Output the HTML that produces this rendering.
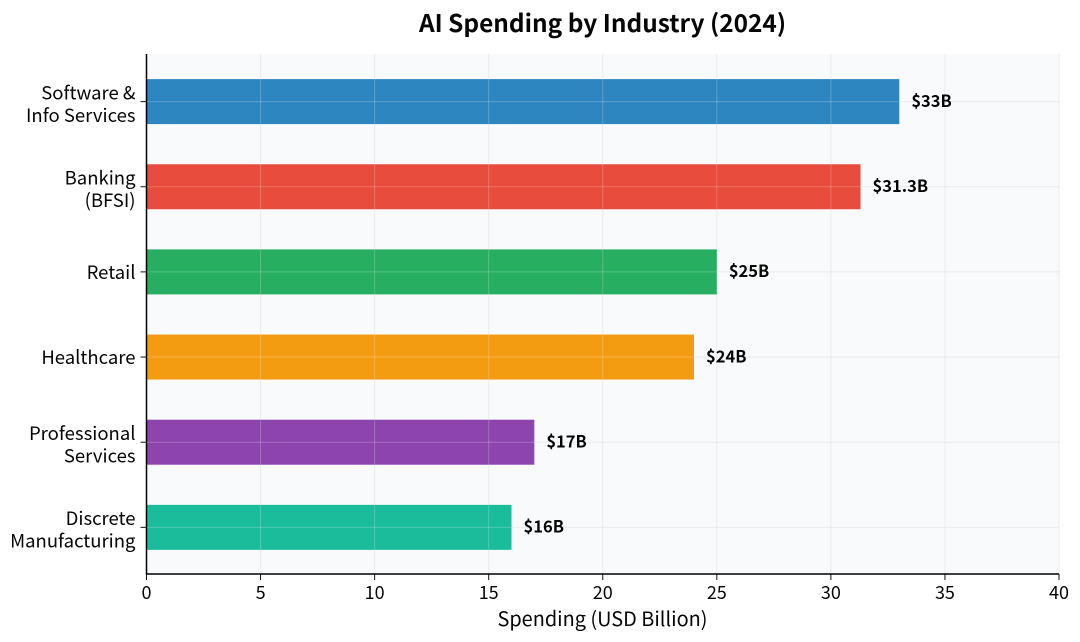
<!DOCTYPE html>
<html>
<head>
<meta charset="utf-8">
<title>AI Spending by Industry (2024)</title>
<style>
html,body{margin:0;padding:0;background:#fff;}
svg{display:block;font-family:"Liberation Sans","Noto Sans CJK SC",sans-serif;}
svg text{font-family:"Noto Sans CJK SC","Liberation Sans",sans-serif;fill:#050505;}
</style>
</head>
<body>
<svg id="chart" width="1080" height="642" viewBox="0 0 1080 642" xmlns="http://www.w3.org/2000/svg">
  <text x="602.5" y="32" text-anchor="middle" font-size="24.4" font-weight="700">AI Spending by Industry (2024)</text>
  <text x="602.5" y="626" text-anchor="middle" font-size="19.9">Spending (USD Billion)</text>
</svg>
<script>
const categories = [["Software &", "Info Services"], ["Banking", "(BFSI)"], ["Retail"], ["Healthcare"], ["Professional", "Services"], ["Discrete", "Manufacturing"]];
const spending = [33, 31.3, 25, 24, 17, 16];
const valueLabels = ["$33B", "$31.3B", "$25B", "$24B", "$17B", "$16B"];
const barColors = ["#2e86c1", "#e74c3c", "#27ae60", "#f39c12", "#8e44ad", "#1abc9c"];
const xTicks = [0, 5, 10, 15, 20, 25, 30, 35, 40];

const svg = document.getElementById('chart');
const NS = 'http://www.w3.org/2000/svg';
const plotLeft = 146.5, plotRight = 1059, plotTop = 54, plotBottom = 574;
const xMax = xTicks[xTicks.length - 1];
const bandStep = 85.15, firstBand = 101.6, barHeight = 45;

function xScale(v) { return plotLeft + (v / xMax) * (plotRight - plotLeft); }
function yScale(i) { return firstBand + i * bandStep; }
function mk(tag, attrs, parent) {
  const el = document.createElementNS(NS, tag);
  for (const k in attrs) el.setAttribute(k, attrs[k]);
  (parent || svg).appendChild(el);
  return el;
}

const bg = mk('rect', {x: plotLeft, y: plotTop, width: plotRight - plotLeft, height: plotBottom - plotTop, fill: '#f9fafb'});



xTicks.forEach(t => {
  const g = mk('line', {x1: xScale(t), x2: xScale(t), y1: plotTop, y2: plotBottom, stroke: '#d5dade', 'stroke-opacity': 0.45, 'stroke-width': 1});
  
  
});
categories.forEach((c, i) => {
  const g = mk('line', {x1: plotLeft, x2: plotRight, y1: yScale(i), y2: yScale(i), stroke: '#d5dade', 'stroke-opacity': 0.45, 'stroke-width': 1});
  
  
});

categories.forEach((c, i) => {
  const bar = mk('rect', {x: xScale(0), y: yScale(i) - barHeight / 2, width: xScale(spending[i]) - xScale(0), height: barHeight, fill: barColors[i]});
  
  
});

xTicks.forEach(t => {
  spending.forEach((v, i) => {
    if (t > 0 && t < v) {
      const g = mk('line', {x1: xScale(t), x2: xScale(t), y1: yScale(i) - barHeight / 2, y2: yScale(i) + barHeight / 2, stroke: '#fff', 'stroke-opacity': 0.22, 'stroke-width': 1});
      
      
    }
  });
});
spending.forEach((v, i) => {
  const g = mk('line', {x1: xScale(0), x2: xScale(v), y1: yScale(i), y2: yScale(i), stroke: '#fff', 'stroke-opacity': 0.22, 'stroke-width': 1});
  
  
});

categories.forEach((c, i) => {
  const y = yScale(i);
  const tick = mk('line', {x1: plotLeft - 6, x2: plotLeft, y1: y, y2: y, stroke: '#111', 'stroke-width': 1});
  
  

  const label = mk('text', {x: 135.5, 'text-anchor': 'end', 'font-size': 18.5});
  
  
  const startY = c.length === 2 ? y - 2.3 : y + 7;
  c.forEach((line, j) => {
    const ts = mk('tspan', {x: 135.5, y: startY + j * 22.5}, label);
    ts.textContent = line;
  });

  const val = mk('text', {x: xScale(spending[i]) + 12, y: y + 5.2, 'font-size': 16.5, 'font-weight': 700});
  
  
  val.textContent = valueLabels[i];
});

xTicks.forEach(t => {
  const tick = mk('line', {x1: xScale(t), x2: xScale(t), y1: plotBottom, y2: plotBottom + 6, stroke: '#111', 'stroke-width': 1});
  
  
  const label = mk('text', {x: xScale(t), y: 599, 'text-anchor': 'middle', 'font-size': 18});
  
  
  label.textContent = t;
});

const yAxis = mk('line', {x1: plotLeft, x2: plotLeft, y1: plotTop, y2: plotBottom + 0.5, stroke: '#000', 'stroke-width': 1.5});


const xAxis = mk('line', {x1: plotLeft, x2: plotRight, y1: plotBottom, y2: plotBottom, stroke: '#000', 'stroke-width': 1.5});


</script>
</body>
</html>
